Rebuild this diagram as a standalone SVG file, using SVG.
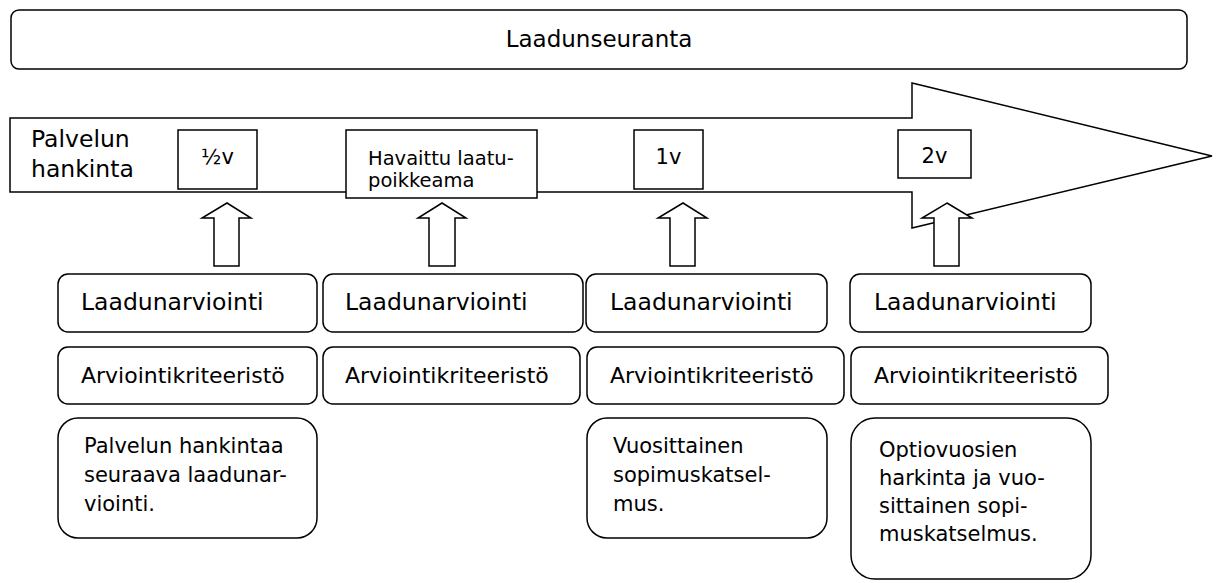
<svg xmlns="http://www.w3.org/2000/svg" width="1219" height="583" viewBox="0 0 1219 583">
<style>
  .ln{fill:#fff;stroke:#000;stroke-width:1.5}
  .t{font-family:"DejaVu Sans","Liberation Sans",sans-serif;fill:#000}
  .t1{font-size:23.5px}
  .t2{font-size:22px}
  .t3{font-size:21px}
  .tm{font-size:21px;text-anchor:middle}
  .ts{font-size:19.5px}
</style>
<rect width="1219" height="583" fill="#fff"/>
<g id="laadunseuranta">
  <rect class="ln" x="11" y="10" width="1176" height="59" rx="8"/>
  <text class="t" x="599" y="47" font-size="23" text-anchor="middle">Laadunseuranta</text>
</g>
<g id="timeline">
  <polygon class="ln" points="10,118 912,118 912,83 1212,156 912,228 912,192 10,192"/>
  <text class="t t1"><tspan x="31" y="147">Palvelun</tspan><tspan x="31" y="177">hankinta</tspan></text>
</g>
<g id="m-half">
  <rect class="ln" x="178" y="130" width="79" height="59"/>
  <text class="t tm" x="217.5" y="164">½v</text>
</g>
<g id="m-havaittu">
  <rect class="ln" x="346" y="130" width="191" height="68"/>
  <text class="t ts"><tspan x="368" y="165">Havaittu laatu-</tspan><tspan x="368" y="187">poikkeama</tspan></text>
</g>
<g id="m-1v">
  <rect class="ln" x="634" y="130" width="69" height="59"/>
  <text class="t tm" x="668.5" y="164">1v</text>
</g>
<g id="m-2v">
  <rect class="ln" x="898" y="130" width="73" height="48"/>
  <text class="t tm" x="934.5" y="163">2v</text>
</g>
<g id="connectors">
  <polygon class="ln" points="227,203 251,218 239,218 239,266 214,266 214,218 202,218"/>
  <polygon class="ln" points="442,203 466,218 455,218 455,266 429,266 429,218 418,218"/>
  <polygon class="ln" points="683,203 707,218 695,218 695,266 670,266 670,218 658,218"/>
  <polygon class="ln" points="947,203 972,218 959,218 959,266 934,266 934,218 922,218"/>
</g>
<g id="arv1">
  <rect class="ln" x="58" y="274" width="259" height="58" rx="10"/>
  <text class="t t1" x="81" y="310">Laadunarviointi</text>
</g>
<g id="arv2">
  <rect class="ln" x="323" y="274" width="260" height="58" rx="10"/>
  <text class="t t1" x="345" y="310">Laadunarviointi</text>
</g>
<g id="arv3">
  <rect class="ln" x="586" y="274" width="241" height="58" rx="10"/>
  <text class="t t1" x="610" y="310">Laadunarviointi</text>
</g>
<g id="arv4">
  <rect class="ln" x="850" y="274" width="241" height="58" rx="10"/>
  <text class="t t1" x="874" y="310">Laadunarviointi</text>
</g>
<g id="krit1">
  <rect class="ln" x="58" y="347" width="259" height="57" rx="10"/>
  <text class="t t2" x="81" y="383">Arviointikriteeristö</text>
</g>
<g id="krit2">
  <rect class="ln" x="323" y="347" width="257" height="57" rx="10"/>
  <text class="t t2" x="345" y="383">Arviointikriteeristö</text>
</g>
<g id="krit3">
  <rect class="ln" x="587" y="347" width="257" height="57" rx="10"/>
  <text class="t t2" x="610" y="383">Arviointikriteeristö</text>
</g>
<g id="krit4">
  <rect class="ln" x="851" y="347" width="257" height="57" rx="10"/>
  <text class="t t2" x="874" y="383">Arviointikriteeristö</text>
</g>
<g id="note1">
  <rect class="ln" x="58" y="418" width="259" height="120" rx="20"/>
  <text class="t t3"><tspan x="84" y="453">Palvelun hankintaa</tspan><tspan x="84" y="482">seuraava laadunar-</tspan><tspan x="84" y="511">viointi.</tspan></text>
</g>
<g id="note3">
  <rect class="ln" x="587" y="418" width="240" height="120" rx="20"/>
  <text class="t t3"><tspan x="613" y="453">Vuosittainen</tspan><tspan x="613" y="482">sopimuskatsel-</tspan><tspan x="613" y="511">mus.</tspan></text>
</g>
<g id="note4">
  <rect class="ln" x="851" y="418" width="240" height="161" rx="24"/>
  <text class="t t3"><tspan x="879" y="457">Optiovuosien</tspan><tspan x="879" y="485">harkinta ja vuo-</tspan><tspan x="879" y="513">sittainen sopi-</tspan><tspan x="879" y="541">muskatselmus.</tspan></text>
</g>
</svg>
